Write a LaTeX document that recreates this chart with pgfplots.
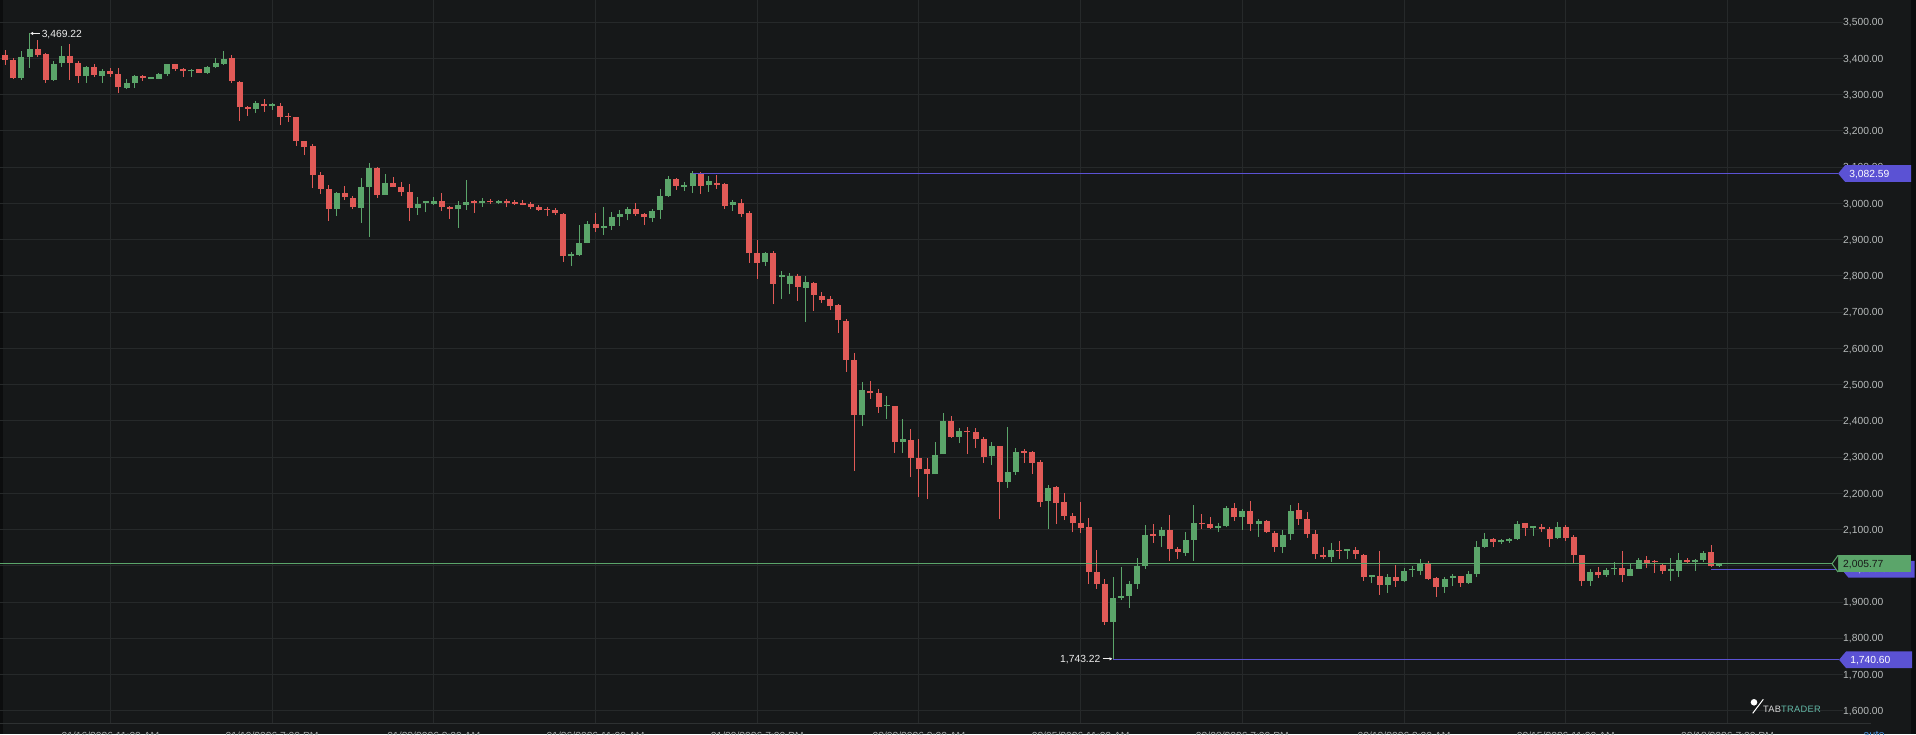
\documentclass[border=0pt]{standalone}
\usepackage{pgfplots}
\pgfplotsset{compat=1.18}
\usepackage{pgfplotstable}
\usepackage{fontspec}
\setmainfont{Liberation Sans}
\newfontfamily\logofont[LetterSpace=3]{Liberation Sans}
\usetikzlibrary{arrows.meta}

\definecolor{bg}{HTML}{161819}
\definecolor{cedge}{HTML}{0C0D0E}
\definecolor{cgrid}{HTML}{26292A}
\definecolor{csep}{HTML}{2E3132}
\definecolor{cred}{HTML}{E15A57}
\definecolor{cgreen}{HTML}{5BA56A}
\definecolor{cblue}{HTML}{5B52D4}
\definecolor{ctick}{HTML}{B7BBBB}
\definecolor{cxtick}{HTML}{A3A7A7}
\definecolor{cnote}{HTML}{EEEEEE}
\definecolor{cauto}{HTML}{4A8FD8}
\definecolor{cteal}{HTML}{62B8A6}
\newcommand\tf{\fontsize{10.3}{12}\selectfont}

% candles drawn as error bars only, no markers
\pgfplotsset{candle/.style={only marks, mark=*, mark size=0pt,
  mark options={draw=none, fill=none}, forget plot}}

% 4h candles: k open high low close
\pgfplotstableread{
k o h l c
1 3409.7 3423.5 3382.1 3395.9
2 3395.9 3400.5 3342.5 3345.3
3 3345.3 3420.7 3340.7 3403.3
4 3405.1 3469.2 3374.7 3425.3
5 3425.3 3451.1 3405.1 3409.7
6 3411.5 3414.3 3333.3 3340.7
7 3340.7 3393.1 3338.9 3384.9
8 3386.7 3434.5 3377.5 3406.9
9 3406.9 3440.0 3340.7 3388.5
10 3386.7 3393.1 3331.5 3351.7
11 3351.7 3379.3 3333.3 3375.7
12 3375.7 3384.9 3348.1 3354.5
13 3352.7 3371.1 3333.3 3365.5
14 3365.5 3373.8 3349.9 3357.3
15 3357.3 3372.9 3305.7 3320.5
16 3318.6 3342.5 3315.0 3331.5
17 3331.5 3355.4 3318.6 3351.7
18 3351.7 3353.6 3338.9 3346.2
19 3344.4 3349.9 3342.5 3347.1
20 3344.4 3359.1 3342.5 3357.3
21 3357.3 3384.9 3351.7 3383.9
22 3383.9 3384.9 3366.5 3370.1
23 3371.0 3373.8 3349.9 3364.6
24 3364.6 3372.0 3349.9 3368.3
25 3370.1 3372.0 3359.1 3361.0
26 3361.0 3379.3 3357.3 3375.7
27 3375.7 3400.5 3372.9 3388.5
28 3384.9 3420.7 3383.0 3398.7
29 3400.5 3409.7 3331.5 3337.9
30 3336.1 3337.9 3228.5 3265.3
31 3265.3 3269.0 3241.3 3260.7
32 3259.7 3282.7 3250.5 3276.3
33 3274.5 3287.3 3253.3 3268.9
34 3268.9 3278.1 3257.9 3271.7
35 3269.9 3276.3 3215.6 3239.5
36 3241.3 3250.5 3225.7 3237.7
37 3237.7 3239.5 3158.5 3173.3
38 3172.3 3173.3 3133.7 3156.7
39 3158.5 3163.1 3041.7 3078.5
40 3078.5 3087.7 3026.1 3039.9
41 3039.9 3050.9 2951.5 2984.7
42 2984.7 3031.6 2965.3 3027.9
43 3027.9 3048.1 3009.5 3016.9
44 3015.0 3020.5 2983.7 2989.3
45 2987.4 3069.3 2946.9 3045.4
46 3046.3 3110.7 2908.3 3097.8
47 3097.8 3099.7 3015.9 3023.3
48 3024.2 3081.3 3023.3 3056.4
49 3057.3 3072.1 3044.5 3046.3
50 3045.4 3060.1 3021.5 3030.7
51 3030.7 3052.7 2951.5 2988.3
52 2986.5 3016.9 2968.1 2998.5
53 3002.1 3004.9 2975.5 3004.0
54 2998.5 3017.8 2994.8 3006.7
55 3006.7 3028.8 2980.1 2991.1
56 2989.3 2992.9 2958.0 2983.7
57 2983.7 3006.7 2933.1 2995.7
58 2996.6 3064.7 2981.9 3004.0
59 3004.9 3009.5 2974.5 3001.2
60 3000.3 3014.1 2991.1 3006.7
61 3007.7 3011.3 2998.5 3003.1
62 3002.1 3009.5 2998.5 3006.7
63 3004.9 3012.3 2989.3 3002.1
64 3004.0 3009.5 2995.7 2999.4
65 3001.2 3009.5 2994.8 2996.6
66 2997.5 3004.0 2983.7 2989.3
67 2989.3 2994.8 2980.1 2982.8
68 2984.7 2991.1 2965.3 2981.0
69 2981.0 2987.4 2968.1 2972.7
70 2971.8 2973.6 2839.3 2854.9
71 2854.9 2865.1 2828.3 2859.5
72 2857.7 2939.6 2854.9 2889.9
73 2891.7 2951.5 2889.9 2944.2
74 2944.2 2974.5 2921.2 2933.1
75 2933.1 2989.3 2913.8 2936.8
76 2938.7 2976.4 2926.7 2962.6
77 2963.5 2981.9 2937.7 2970.9
78 2970.9 2991.1 2953.4 2984.7
79 2983.7 3000.3 2965.3 2970.9
80 2970.9 2974.6 2941.5 2961.7
81 2959.0 2984.7 2948.8 2978.3
82 2982.0 3040.0 2958.0 3020.6
83 3020.6 3075.8 3018.8 3066.6
84 3066.6 3069.4 3037.2 3048.2
85 3046.4 3060.2 3035.3 3048.2
86 3048.2 3089.6 3029.8 3083.2
87 3083.2 3087.8 3026.1 3048.2
88 3050.0 3075.8 3032.5 3061.1
89 3057.4 3078.6 3040.0 3051.0
90 3053.7 3057.4 2985.6 2993.9
91 2996.7 3009.6 2980.1 3004.0
92 3001.3 3012.3 2963.5 2970.9
93 2972.8 2979.2 2836.6 2862.4
94 2862.4 2899.2 2792.4 2836.6
95 2837.5 2866.0 2828.3 2862.4
96 2862.4 2868.8 2721.6 2778.6
97 2797.0 2813.6 2736.3 2798.8
98 2777.7 2807.1 2749.2 2799.8
99 2799.8 2805.3 2730.8 2770.4
100 2767.6 2800.7 2673.8 2783.2
101 2780.5 2783.2 2704.1 2747.4
102 2745.5 2755.6 2725.3 2734.5
103 2735.4 2744.6 2706.9 2717.9
104 2718.8 2723.4 2643.4 2677.4
105 2676.5 2681.1 2535.8 2568.9
106 2568.0 2587.3 2262.0 2415.2
107 2415.2 2507.2 2385.8 2485.2
108 2482.4 2510.0 2461.2 2476.0
109 2476.0 2487.0 2422.6 2439.2
110 2440.0 2468.6 2405.0 2442.0
111 2441.0 2441.0 2312.2 2340.7
112 2342.6 2405.1 2312.2 2349.0
113 2348.1 2376.6 2244.1 2296.6
114 2296.6 2349.9 2190.8 2266.2
115 2267.1 2296.6 2183.4 2252.4
116 2252.4 2341.6 2252.4 2304.8
117 2307.6 2421.7 2307.6 2398.7
118 2398.7 2413.4 2353.6 2356.4
119 2356.4 2379.4 2338.0 2371.1
120 2371.1 2384.0 2308.5 2368.3
121 2369.2 2379.4 2324.2 2349.0
122 2349.0 2356.4 2284.6 2301.2
123 2303.0 2342.5 2278.2 2329.7
124 2329.7 2329.7 2129.1 2232.2
125 2232.2 2382.1 2215.6 2259.8
126 2259.8 2324.1 2250.6 2313.1
127 2314.0 2322.3 2284.6 2311.3
128 2313.1 2316.8 2253.3 2284.6
129 2285.5 2292.0 2163.2 2177.0
130 2178.8 2223.0 2101.5 2214.7
131 2216.5 2220.2 2115.3 2174.2
132 2175.1 2200.0 2126.4 2138.3
133 2137.4 2146.6 2092.3 2117.2
134 2118.1 2176.1 2089.6 2105.2
135 2106.1 2131.9 1949.7 1983.8
136 1981.9 2042.6 1936.8 1949.7
137 1949.7 1963.5 1836.5 1844.8
138 1844.8 1968.1 1743.2 1911.1
139 1912.0 1995.7 1905.5 1917.5
140 1916.6 1958.0 1884.4 1949.7
141 1949.7 2020.5 1935.0 2000.3
142 2000.3 2111.6 1992.0 2085.0
143 2085.9 2114.4 2063.8 2083.1
144 2083.1 2106.1 2052.8 2098.8
145 2098.8 2140.2 2014.1 2045.4
146 2046.3 2051.8 2019.6 2039.0
147 2036.2 2094.2 2027.9 2071.2
148 2071.2 2167.8 2014.1 2117.2
149 2117.2 2142.0 2100.6 2114.4
150 2115.3 2133.7 2102.4 2104.3
151 2105.2 2117.2 2092.3 2108.9
152 2110.7 2165.0 2106.1 2158.5
153 2158.5 2173.3 2124.5 2133.7
154 2135.6 2156.7 2098.8 2151.2
155 2151.2 2177.9 2096.9 2116.2
156 2115.3 2128.2 2080.4 2124.5
157 2124.5 2126.4 2091.4 2092.3
158 2090.5 2096.0 2039.0 2052.8
159 2052.8 2098.8 2034.4 2085.0
160 2086.8 2167.8 2071.2 2151.2
161 2154.0 2173.3 2113.5 2128.2
162 2129.1 2148.4 2077.6 2088.6
163 2087.7 2098.8 2019.6 2031.6
164 2028.8 2052.8 2018.7 2025.2
165 2025.2 2061.9 2011.3 2043.5
166 2042.6 2069.3 2017.8 2039.9
167 2040.8 2043.5 2017.8 2042.6
168 2043.6 2052.8 2019.6 2032.5
169 2029.8 2032.5 1958.9 1970.0
170 1969.9 1975.5 1951.6 1972.7
171 1971.8 2040.8 1920.3 1947.9
172 1947.9 1976.4 1925.8 1968.1
173 1968.1 2002.2 1942.4 1958.9
174 1958.9 1993.0 1956.2 1985.6
175 1987.4 1999.4 1969.9 1990.2
176 1986.5 2018.7 1974.6 2006.8
177 2006.8 2014.1 1960.8 1963.5
178 1965.4 1968.1 1914.8 1942.4
179 1942.4 1968.1 1925.8 1963.5
180 1966.3 1976.4 1944.2 1969.9
181 1970.8 1972.7 1942.4 1953.4
182 1952.5 1984.7 1949.7 1976.4
183 1977.3 2068.4 1969.9 2051.8
184 2051.8 2091.4 2050.0 2073.9
185 2072.9 2076.7 2050.9 2065.6
186 2064.7 2073.0 2059.2 2071.1
187 2069.3 2077.6 2063.8 2074.8
188 2073.0 2123.6 2071.1 2115.3
189 2117.1 2119.0 2082.2 2104.3
190 2104.3 2106.1 2082.2 2106.1
191 2105.2 2115.3 2094.2 2102.4
192 2101.5 2106.1 2052.8 2074.8
193 2076.7 2121.7 2073.9 2107.9
194 2107.9 2112.6 2069.3 2076.7
195 2078.5 2084.9 2008.6 2028.8
196 2028.8 2030.7 1945.1 1958.9
197 1958.9 1992.0 1945.1 1981.9
198 1982.8 1997.6 1965.4 1974.6
199 1975.5 1994.8 1969.9 1989.3
200 1990.2 2009.5 1974.6 1993.9
201 1993.0 2040.8 1954.3 1973.6
202 1972.7 2006.8 1971.8 1991.1
203 1992.0 2022.4 1990.2 2016.0
204 2016.0 2027.0 1994.8 2006.8
205 2011.4 2016.0 1981.0 2009.5
206 2002.2 2006.8 1977.3 1985.6
207 1986.5 2020.5 1958.9 1989.3
208 1986.5 2034.4 1969.9 2015.0
209 2016.0 2021.5 2006.8 2011.4
210 2010.4 2019.6 1986.5 2016.0
211 2016.0 2041.7 2010.4 2036.2
212 2037.1 2057.4 1995.7 1999.4
213 2000.3 2005.8 1997.6 2005.8
}\candles

\begin{document}
\begin{tikzpicture}
% panel
\fill[bg] (0pt,-11pt) rectangle (1911pt,723pt);
\fill[cedge] (1911pt,-11pt) rectangle (1916pt,723pt);
\fill[cedge] (0pt,-11pt) rectangle (2.5pt,723pt);

\begin{axis}[
  at={(0pt,0pt)}, anchor=south west,
  scale only axis, width=1843pt, height=723pt,
  xmin=0.3445, xmax=228.29, ymin=1566.1, ymax=3561.5,
  clip=false,
  axis line style={draw=none},
  major tick length=0pt,
  grid=major, grid style={cgrid, line width=1pt},
  xtick={14,34,...,214},
  xticklabels={{01/16/2026 11:00 AM},{01/19/2026 7:00 PM},{01/23/2026 3:00 AM},
    {01/26/2026 11:00 AM},{01/29/2026 7:00 PM},{02/02/2026 3:00 AM},
    {02/05/2026 11:00 AM},{02/08/2026 7:00 PM},{02/12/2026 3:00 AM},
    {02/15/2026 11:00 AM},{02/18/2026 7:00 PM}},
  xticklabel style={anchor=north, inner sep=0pt, yshift=-8.7pt, text=cxtick, font=\tf},
  ytick={1600,1700,...,3500},
  yticklabel pos=right,
  scaled y ticks=false,
  yticklabel style={anchor=base west, inner sep=0pt, yshift=-3.7pt, text=ctick, font=\tf,
    /pgf/number format/.cd, fixed, fixed zerofill, precision=2, 1000 sep={,}, assume math mode=true},
]
% wicks
\addplot[candle,
  error bars/.cd, y dir=plus, y explicit, error mark=none,
  error bar style={draw=cred, line width=1pt}]
  table[x=k, y expr={\thisrow{c}<\thisrow{o} ? \thisrow{l} : nan},
        y error expr={\thisrow{h}-\thisrow{l}}] {\candles};
\addplot[candle,
  error bars/.cd, y dir=plus, y explicit, error mark=none,
  error bar style={draw=cgreen, line width=1pt}]
  table[x=k, y expr={\thisrow{c}<\thisrow{o} ? nan : \thisrow{l}},
        y error expr={\thisrow{h}-\thisrow{l}}] {\candles};
% bodies
\addplot[candle,
  error bars/.cd, y dir=plus, y explicit, error mark=none,
  error bar style={draw=cred, line width=6pt}]
  table[x=k, y expr={\thisrow{c}<\thisrow{o} ? \thisrow{c} : nan},
        y error expr={max(\thisrow{o}-\thisrow{c},5)}] {\candles};
\addplot[candle,
  error bars/.cd, y dir=plus, y explicit, error mark=none,
  error bar style={draw=cgreen, line width=6pt}]
  table[x=k, y expr={\thisrow{c}<\thisrow{o} ? nan : \thisrow{o}},
        y error expr={max(\thisrow{c}-\thisrow{o},5)}] {\candles};

% price levels
\addplot[cblue, line width=1.2pt] coordinates {(86,3082.59) (227.68,3082.59)};
\addplot[cblue, line width=1.2pt] coordinates {(138,1740.60) (227.8,1740.60)};
\addplot[cblue, line width=1.2pt] coordinates {(212,1990.3) (228.1,1990.3)};
\addplot[cgreen, line width=1.2pt] coordinates {(0.3445,2005.77) (226.93,2005.77)};

% high / low notes
\draw[cnote, line width=0.8pt, -{Latex[length=3pt,width=3.5pt]}]
  (axis cs:4,3469.22) ++(10pt,0pt) -- ++(-9.5pt,0pt);
\node[anchor=base west, inner sep=0pt, text=cnote, font=\tf]
  at (axis cs:4,3469.22) [xshift=12pt, yshift=-3.7pt] {3,469.22};
\draw[cnote, line width=0.8pt, -{Latex[length=3pt,width=3.5pt]}]
  (axis cs:138,1743.22) ++(-10.5pt,0pt) -- ++(10pt,0pt);
\node[anchor=base east, inner sep=0pt, text=cnote, font=\tf]
  at (axis cs:138,1743.22) [xshift=-12.5pt, yshift=-3.7pt] {1,743.22};

% right-hand price tags
\fill[cblue] (axis cs:227.68,3082.59) -- ++(7pt,8.35pt) -- ++(66pt,0pt) -- ++(0pt,-16.7pt) -- ++(-66pt,0pt) -- cycle;
\node[anchor=base west, inner sep=0pt, text=white, font=\tf]
  at (axis cs:227.68,3082.59) [xshift=11pt, yshift=-3.7pt] {3,082.59};
\fill[cblue] (axis cs:227.8,1740.60) -- ++(7pt,8.35pt) -- ++(66pt,0pt) -- ++(0pt,-16.7pt) -- ++(-66pt,0pt) -- cycle;
\node[anchor=base west, inner sep=0pt, text=white, font=\tf]
  at (axis cs:227.8,1740.60) [xshift=11pt, yshift=-3.7pt] {1,740.60};
\fill[cblue] (axis cs:228.1,1990.3) -- ++(7pt,8.35pt) -- ++(66pt,0pt) -- ++(0pt,-16.7pt) -- ++(-66pt,0pt) -- cycle;
\node[anchor=base west, inner sep=0pt, text=white, font=\tf]
  at (axis cs:228.1,1990.3) [xshift=11pt, yshift=-3.7pt] {1,990.30};
\fill[cgreen] (axis cs:226.93,2005.77) ++(6pt,-8.35pt) rectangle ++(73pt,16.7pt);
\draw[cgreen, fill=bg, line width=1pt] (axis cs:226.93,2005.77) ++(6pt,8.35pt) -- ++(-6pt,-8.35pt) -- ++(6pt,-8.35pt);
\node[anchor=base west, inner sep=0pt, text=black!90, font=\tf]
  at (axis cs:226.93,2005.77) [xshift=11pt, yshift=-3.7pt] {2,005.77};
\end{axis}

% x-axis separator
\draw[csep, line width=1pt] (0pt,0pt) -- (1871pt,0pt);
% logo
\fill[white] (1754pt,20.7pt) circle (3.3pt);
\draw[white, line width=1pt] (1763.3pt,23.7pt) -- (1752.7pt,9.7pt);
\node[anchor=west, inner sep=0pt, font=\logofont\fontsize{9.3}{11}\selectfont]
  at (1763pt,14pt) {\textcolor{white!85!black}{TAB}\textcolor{cteal}{TRADER}};
\node[anchor=base, inner sep=0pt, text=cauto, font=\fontsize{11}{13}\selectfont] at (1874pt,-15.5pt) {auto};

\pgfresetboundingbox
\useasboundingbox (0pt,-11pt) rectangle (1916pt,723pt);
\end{tikzpicture}
\end{document}
